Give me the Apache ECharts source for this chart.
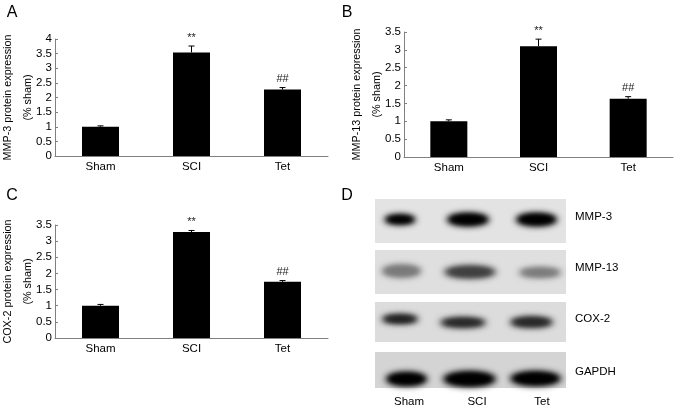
<!DOCTYPE html>
<html><head><meta charset="utf-8">
<script src="https://cdn.jsdelivr.net/npm/echarts@6/dist/echarts.min.js"></script>
<style>html,body{margin:0;padding:0;background:#fff}#c{width:677px;height:411px}</style>
</head><body><div id="c"></div>
<script>
var categories = ['Sham', 'SCI', 'Tet'];
var mmp3Values = [1.0, 3.54, 2.27];
var mmp3Errors = [0.03, 0.22, 0.07];
var mmp13Values = [1.0, 3.10, 1.63];
var mmp13Errors = [0.04, 0.20, 0.06];
var cox2Values = [1.0, 3.28, 1.74];
var cox2Errors = [0.04, 0.05, 0.04];
var sigMarks = ['', '**', '##'];
var blotProteins = ['MMP-3', 'MMP-13', 'COX-2', 'GAPDH'];

var FONT = 'Liberation Sans, Arial, sans-serif';
var chart = echarts.init(document.getElementById('c'), null, {renderer: 'canvas'});

var panels = [
  {name: ['MMP-3 protein expression', '(% sham)'], vals: mmp3Values, errs: mmp3Errors, max: 4, grid: {left: 55, right: 349, top: 39, bottom: 255}},
  {name: ['MMP-13 protein expression', '(% sham)'], vals: mmp13Values, errs: mmp13Errors, max: 3.5, grid: {left: 404, right: 4, top: 32, bottom: 254}},
  {name: ['COX-2 protein expression', '(% sham)'], vals: cox2Values, errs: cox2Errors, max: 3.5, grid: {left: 55, right: 349, top: 225, bottom: 73}}
];

var graphics = [];
function txt(t, x, y, size, align, rot) {
  graphics.push({type: 'text', x: x, y: y, rotation: rot || 0, style: {text: t, font: size + 'px ' + FONT, fill: '#000', align: align || 'center', verticalAlign: 'middle'}});
}

var grids = [], xAxes = [], yAxes = [], series = [];
panels.forEach(function (p, i) {
  var g = p.grid;
  g.containLabel = false;
  g.outerBoundsMode = 'none';
  grids.push(g);
  // rotated two-line y-axis title
  var cy = (g.top + (411 - g.bottom)) / 2;
  txt(p.name[0], g.left - 47, cy, 10.8, 'center', Math.PI / 2);
  txt(p.name[1], g.left - 27, cy, 10.8, 'center', Math.PI / 2);
  xAxes.push({
    type: 'category', gridIndex: i, data: categories,
    axisLine: {lineStyle: {color: '#808080', width: 1}},
    axisTick: {inside: true, length: 3, lineStyle: {color: '#808080'}},
    axisLabel: {color: '#000', fontFamily: FONT, fontSize: 11.5, margin: 5}
  });
  yAxes.push({
    type: 'value', gridIndex: i, min: 0, max: p.max, interval: 0.5,
    axisLine: {show: true, lineStyle: {color: '#808080', width: 1}},
    axisTick: {show: true, inside: true, length: 3, lineStyle: {color: '#808080'}},
    axisLabel: {color: '#000', fontFamily: FONT, fontSize: 11.5, margin: 3},
    splitLine: {show: false}
  });
  series.push({
    type: 'bar', xAxisIndex: i, yAxisIndex: i, data: p.vals, barWidth: 37,
    itemStyle: {color: '#000'}, silent: true, animation: false
  });
  series.push({
    type: 'custom', xAxisIndex: i, yAxisIndex: i, animation: false, silent: true,
    data: p.vals.map(function (v, k) { return [k, v, p.errs[k]]; }),
    renderItem: function (params, api) {
      var x = api.value(0), v = api.value(1), e = api.value(2);
      var top = api.coord([x, v]);
      var hi = api.coord([x, v + e]);
      var cap = 3;
      return {
        type: 'group',
        children: [
          {type: 'line', shape: {x1: top[0], y1: top[1], x2: hi[0], y2: hi[1]}, style: {stroke: '#000', lineWidth: 1}},
          {type: 'line', shape: {x1: hi[0] - cap, y1: hi[1], x2: hi[0] + cap, y2: hi[1]}, style: {stroke: '#000', lineWidth: 1}},
          {type: 'text', style: {text: sigMarks[params.dataIndex], x: hi[0], y: hi[1] - 3, align: 'center', verticalAlign: 'bottom', font: '11px ' + FONT, fill: '#222'}}
        ]
      };
    }
  });
});

// Panel letters
txt('A', 12, 13, 16);
txt('B', 347, 13, 16);
txt('C', 12, 196, 16);
txt('D', 347, 196, 16);

// Western blot panel (D)
var boxes = [
  {y: 199, h: 44, bg: '#e3e3e3'},
  {y: 250, h: 44, bg: '#dfdfdf'},
  {y: 302, h: 40, bg: '#dcdcdc'},
  {y: 352, h: 36, bg: '#d4d4d4'}
];
// band extents [x0, x1, y0, y1, colour]
var bands = [
  [[383, 417, 213, 226, '#000'], [445, 491, 211, 228, '#000'], [514, 559, 211, 228, '#000']],
  [[380, 423, 263, 279, '#7a7a7a'], [442, 498, 264, 280, '#404040'], [517, 563, 266, 279, '#7c7c7c']],
  [[380, 420, 313, 325, '#202020'], [438, 488, 316, 329, '#282828'], [508, 555, 315, 329, '#282828']],
  [[384, 429, 370, 388, '#000'], [441, 498, 369, 389, '#000'], [508, 563, 369, 388, '#000']]
];
boxes.forEach(function (b, i) {
  graphics.push({type: 'rect', shape: {x: 375, y: b.y, width: 191, height: b.h}, style: {fill: b.bg}});
  bands[i].forEach(function (bd) {
    var cx = (bd[0] + bd[1]) / 2, cy = (bd[2] + bd[3]) / 2;
    var rx = (bd[1] - bd[0]) / 2, ry = (bd[3] - bd[2]) / 2;
    // soft blurred band drawn purely by its shadow
    graphics.push({type: 'ellipse', shape: {cx: cx - 2000, cy: cy, rx: rx * 0.95, ry: ry * 0.8},
      style: {fill: bd[4], shadowBlur: 6, shadowColor: bd[4], shadowOffsetX: 2000}});
    graphics.push({type: 'ellipse', shape: {cx: cx - 2000, cy: cy, rx: rx * 0.75, ry: ry * 0.55},
      style: {fill: bd[4], shadowBlur: 5, shadowColor: bd[4], shadowOffsetX: 2000}});
  });
  txt(blotProteins[i], 575, [217, 268, 319, 372][i], 11.5, 'left');
});
txt('Sham', 409, 402, 11.5);
txt('SCI', 477, 402, 11.5);
txt('Tet', 542, 402, 11.5);

chart.setOption({
  animation: false,
  grid: grids, xAxis: xAxes, yAxis: yAxes, series: series,
  graphic: graphics
});
</script></body></html>
